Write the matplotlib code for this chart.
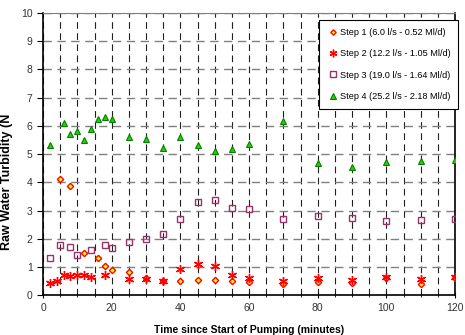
import numpy as np
import matplotlib
matplotlib.use("Agg")
import matplotlib.pyplot as plt
from matplotlib.ticker import MultipleLocator

# Step 1 (6.0 l/s - 0.52 Ml/d)
t1 = [5, 8, 12, 16, 18, 20, 25, 30, 35, 40, 45, 50, 55, 60, 70, 80, 90, 100, 110, 120]
v1 = [4.10, 3.87, 1.50, 1.30, 1.03, 0.89, 0.83, 0.59, 0.51, 0.49, 0.52, 0.52, 0.49, 0.47,
      0.41, 0.46, 0.44, 0.60, 0.40, 0.62]

# Step 2 (12.2 l/s - 1.05 Ml/d)
t2 = [2, 4, 6, 8, 10, 12, 14, 18, 25, 30, 35, 40, 45, 50, 55, 60, 70, 80, 90, 100, 110, 120]
v2 = [0.44, 0.51, 0.71, 0.68, 0.73, 0.71, 0.65, 0.71, 0.56, 0.56, 0.50, 0.91, 1.10, 1.03,
      0.70, 0.60, 0.51, 0.59, 0.53, 0.63, 0.57, 0.63]

# Step 3 (19.0 l/s - 1.64 Ml/d)
t3 = [2, 5, 8, 10, 14, 18, 20, 25, 30, 35, 40, 45, 50, 55, 60, 70, 80, 90, 100, 110, 120]
v3 = [1.32, 1.78, 1.71, 1.42, 1.61, 1.76, 1.68, 1.90, 2.00, 2.16, 2.71, 3.30, 3.38, 3.09,
      3.04, 2.71, 2.82, 2.74, 2.62, 2.68, 2.71]

# Step 4 (25.2 l/s - 2.18 Ml/d)
t4 = [2, 6, 8, 10, 12, 14, 16, 18, 20, 25, 30, 35, 40, 45, 50, 55, 60, 70, 80, 90, 100, 110, 120]
v4 = [5.34, 6.12, 5.73, 5.83, 5.49, 5.89, 6.24, 6.32, 6.24, 5.59, 5.52, 5.21, 5.59, 5.33,
      5.12, 5.19, 5.35, 6.17, 4.67, 4.55, 4.71, 4.76, 4.79]

labels = ["Step 1 (6.0 l/s - 0.52 Ml/d)", "Step 2 (12.2 l/s - 1.05 Ml/d)",
          "Step 3 (19.0 l/s - 1.64 Ml/d)", "Step 4 (25.2 l/s - 2.18 Ml/d)"]

plt.rcParams["font.family"] = ["Liberation Sans", "DejaVu Sans"]

fig = plt.figure(figsize=(4.65, 3.35), dpi=100)
ax = fig.add_axes([0.0925, 0.119, 0.886, 0.842])

ax.plot(t1, v1, linestyle="none", marker="D", markersize=3.2, markerfacecolor="#ffff00",
        markeredgecolor="#ff0000", markeredgewidth=1.0, label=labels[0], zorder=3)
ax.plot(t2, v2, linestyle="none", marker=(6, 2, 0), markersize=6.5, markeredgecolor="#ff0000",
        markeredgewidth=1.0, label=labels[1], zorder=4)
ax.plot(t3, v3, linestyle="none", marker="s", markersize=5, markerfacecolor="none",
        markeredgecolor="#993366", markeredgewidth=1.0, label=labels[2], zorder=3)
ax.plot(t4, v4, linestyle="none", marker="^", markersize=4.8, markerfacecolor="#33cc00",
        markeredgecolor="#008000", markeredgewidth=0.8, label=labels[3], zorder=3)

ax.set_xlim(0, 120)
ax.set_ylim(0, 10)
ax.xaxis.set_major_locator(MultipleLocator(20))
ax.xaxis.set_minor_locator(MultipleLocator(5))
ax.yaxis.set_major_locator(MultipleLocator(1))

ax.grid(True, which="major", axis="y", linestyle=(0, (6, 4)), color="#808080", linewidth=1.0)
ax.grid(True, which="both", axis="x", linestyle=(0, (6, 4)), color="#202020", linewidth=0.8)
ax.set_axisbelow(True)

ax.tick_params(axis="both", which="major", labelsize=7.5, length=4, direction="out",
               labelcolor="#333333")
ax.tick_params(axis="x", which="minor", length=3, direction="inout")
ax.tick_params(axis="x", which="major", direction="inout", length=5)

for side in ["left", "bottom", "right"]:
    ax.spines[side].set_color("black")
    ax.spines[side].set_linewidth(1.2)
ax.spines["top"].set_color("#808080")

ax.set_xlabel("Time since Start of Pumping (minutes)", fontsize=7.5, fontweight="bold", labelpad=8)
ax.set_ylabel("Raw Water Turbidity (N", fontsize=9, fontweight="bold")
ax.yaxis.set_label_coords(-0.072, 0.40)

# legend box runs past the right edge of the figure, as in the original
leg = ax.legend(loc="upper left", bbox_to_anchor=(0.686, 0.94), bbox_transform=fig.transFigure,
                fontsize=6.6, frameon=True, fancybox=False, edgecolor="black",
                labelspacing=1.35, handletextpad=0.1, handlelength=1.3, borderpad=0.85,
                borderaxespad=0, markerscale=0.85, framealpha=1)
leg.get_frame().set_linewidth(0.8)
leg.set_zorder(5)

fig.savefig("out.png", dpi=100)
plt.close(fig)
